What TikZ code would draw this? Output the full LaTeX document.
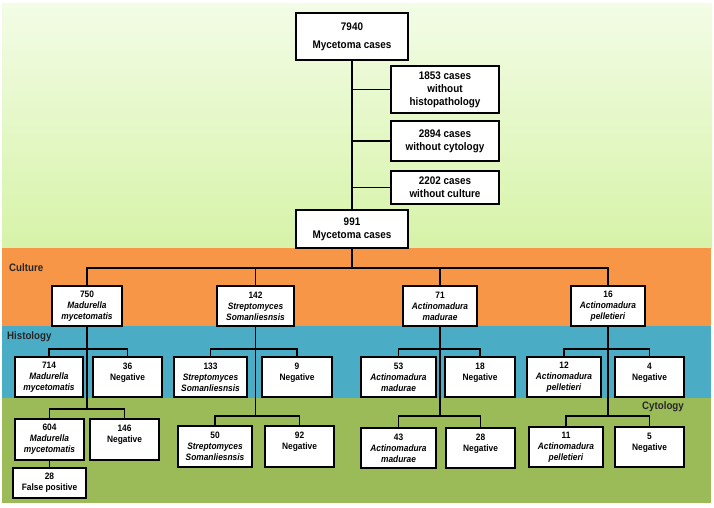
\documentclass[tikz,border=0pt]{standalone}
\usepackage{fontspec}
\setmainfont{Liberation Sans}[FakeStretch=0.9]
\definecolor{bgtop}{HTML}{F3FCE6}
\definecolor{bgbot}{HTML}{D6F3A8}
\definecolor{cultband}{HTML}{F79646}
\definecolor{histband}{HTML}{4BACC6}
\definecolor{cytoband}{HTML}{9BBB59}
\begin{document}
\begin{tikzpicture}[x=1pt,y=-1pt,every node/.style={font=\bfseries},box/.style={draw,fill=white,line width=1.5pt,align=center,inner sep=2pt,minimum height=40,font=\fontsize{9.3}{11}\selectfont\bfseries},bigbox/.style={box,font=\fontsize{11}{13}\selectfont\bfseries},link/.style={line width=1.5pt},bandlabel/.style={font=\fontsize{10.8}{12}\selectfont\bfseries,text=black!85,inner sep=0pt}]
\useasboundingbox (0,0) rectangle (714,507);
\shade[top color=bgtop,bottom color=bgbot] (2,3) rectangle (712,248);
\fill[cultband] (2,248) rectangle (711,326);
\fill[histband] (2,326) rectangle (711,398);
\fill[cytoband] (2,398) rectangle (711,503);
\node[bandlabel,anchor=west] (lcult) at (9,268) {Culture};
\node[bandlabel,anchor=west] (lhist) at (7,337) {Histology};
\node[bandlabel,anchor=east] (lcyto) at (684,407) {Cytology};
\node[bigbox,minimum width=112,minimum height=47] (top) at (352,36.5) {7940\\[5pt]Mycetoma cases};
\node[bigbox,minimum width=108,minimum height=47] (s1853) at (445,89.5) {1853 cases\\without\\histopathology};
\node[bigbox,minimum width=108,minimum height=40] (s2894) at (445,141) {2894 cases\\without cytology};
\node[bigbox,minimum width=108,minimum height=33] (s2202) at (445,187.5) {2202 cases\\without culture};
\node[bigbox,minimum width=112,minimum height=38] (n991) at (352,229) {991\\Mycetoma cases};
\node[box,minimum width=70] (n750) at (87,306) {750\\\textit{Madurella}\\\textit{mycetomatis}};
\node[box,minimum width=77] (n142) at (255.5,306) {142\\\textit{Streptomyces}\\\textit{Somanliesnsis}};
\node[box,minimum width=74] (n71) at (440,306) {71\\\textit{Actinomadura}\\\textit{madurae}};
\node[box,minimum width=74] (n16) at (608,306) {16\\\textit{Actinomadura}\\\textit{pelletieri}};
\node[box,minimum width=68] (h714) at (49,377) {714\\\textit{Madurella}\\\textit{mycetomatis}};
\node[box,minimum width=69] (h36) at (127.5,377) {36\\Negative\\~};
\node[box,minimum width=73] (h133) at (210.5,377) {133\\\textit{Streptomyces}\\\textit{Somanliesnsis}};
\node[box,minimum width=70] (h9) at (297,377) {9\\Negative\\~};
\node[box,minimum width=75] (h53) at (398.5,377) {53\\\textit{Actinomadura}\\\textit{madurae}};
\node[box,minimum width=70] (h18) at (480,377) {18\\Negative\\~};
\node[box,minimum width=74] (h12) at (564,377) {12\\\textit{Actinomadura}\\\textit{pelletieri}};
\node[box,minimum width=69] (h4) at (649.5,377) {4\\Negative\\~};
\node[box,minimum width=69,minimum height=41] (c604) at (49.5,439.5) {604\\\textit{Madurella}\\\textit{mycetomatis}};
\node[box,minimum width=69,minimum height=41] (c146) at (124.5,439.5) {146\\Negative\\~};
\node[box,minimum width=73,minimum height=30] (c28fp) at (49.5,483) {28\\False positive};
\node[box,minimum width=74,minimum height=41] (c50) at (215,446.5) {50\\\textit{Streptomyces}\\\textit{Somanliesnsis}};
\node[box,minimum width=69,minimum height=41] (c92) at (299.5,446.5) {92\\Negative\\~};
\node[box,minimum width=75] (c43) at (398.5,448) {43\\\textit{Actinomadura}\\\textit{madurae}};
\node[box,minimum width=69] (c28) at (480.5,448) {28\\Negative\\~};
\node[box,minimum width=74] (c11) at (566,447) {11\\\textit{Actinomadura}\\\textit{pelletieri}};
\node[box,minimum width=69] (c5) at (649.5,447) {5\\Negative\\~};
\coordinate (cl) at (0,268);\coordinate (hb) at (0,349);\coordinate (cba) at (0,409);\coordinate (cbb) at (0,416);
\draw[link] (top) -- (n991);
\draw[link] (s1853.west) -- (s1853.west -| top.south);
\draw[link] (s2894.west) -- (s2894.west -| top.south);
\draw[link] (s2202.west) -- (s2202.west -| top.south);
\draw[link] (n991.south) -- (n991.south |- cl);
\draw[link] (n750.north) -- (n750.north |- cl) -- (n16.north |- cl) -- (n16.north);
\draw[link] (n142.north) -- (n142.north |- cl);\draw[link] (n71.north) -- (n71.north |- cl);
\draw[link] (n750.south) -- (n750.south |- cba);
\draw[link] (n142.south) -- (n142.south |- cbb);
\draw[link] (n71.south) -- (n71.south |- cbb);
\draw[link] (n16.south) -- (n16.south |- cbb);
\draw[link] (h714.north) -- (h714.north |- hb) -| (h36.north);
\draw[link] (h133.north) -- (h133.north |- hb) -| (h9.north);
\draw[link] (h53.north) -- (h53.north |- hb) -| (h18.north);
\draw[link] (h12.north) -- (h12.north |- hb) -| (h4.north);
\draw[link] (c604.north) -- (c604.north |- cba) -| (c146.north);
\draw[link] (c604) -- (c28fp);
\draw[link] (c50.north) -- (c50.north |- cbb) -| (c92.north);
\draw[link] (c43.north) -- (c43.north |- cbb) -| (c28.north);
\draw[link] (c11.north) -- (c11.north |- cbb) -| (c5.north);
\end{tikzpicture}
\end{document}
